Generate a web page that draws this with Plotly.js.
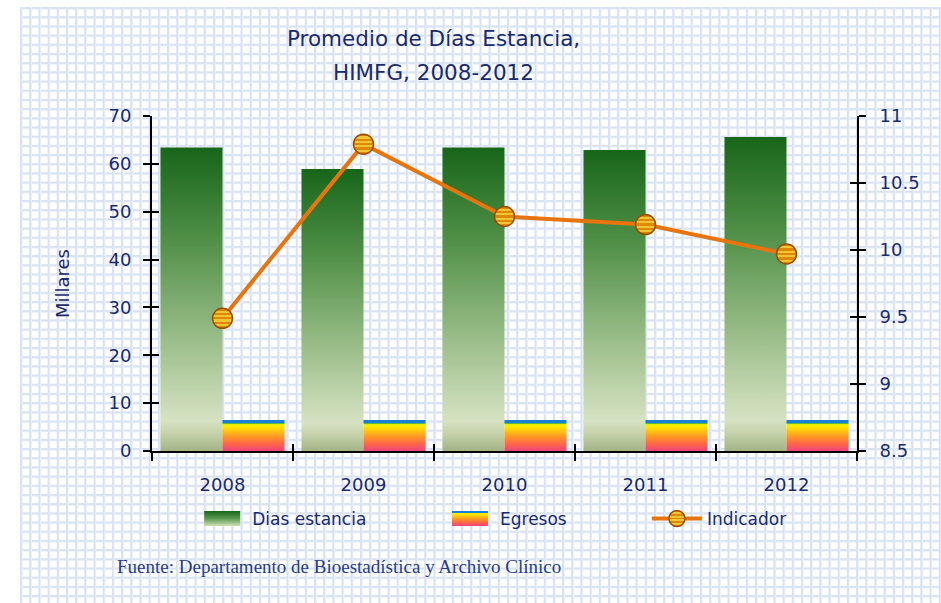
<!DOCTYPE html>
<html><head><meta charset="utf-8">
<script src="https://cdn.plot.ly/plotly-3.0.1.min.js"></script>
<style>
body{margin:0;background:#fff;}
#bg{position:absolute;left:20px;top:7px;width:921px;height:596px;background-color:#fff;
background-image:linear-gradient(90deg,#d8e2f1 0,#d8e2f1 2px,#edf2f9 2px,#edf2f9 3px,transparent 3px),linear-gradient(180deg,#d8e2f1 0,#d8e2f1 2px,#edf2f9 2px,#edf2f9 3px,transparent 3px);
background-size:9.2px 9.2px;}
#chart{position:absolute;left:0;top:0;width:941px;height:603px;}
</style></head><body>
<div id="bg"></div><div id="chart"></div>
<script>
// ---- data ----
const years=['2008','2009','2010','2011','2012'];
const diasEstancia=[63.4,58.9,63.4,62.9,65.6];   // miles
const egresos=[6.5,6.5,6.5,6.5,6.5];              // miles
const indicador=[9.49,10.79,10.25,10.19,9.97];
const leftTicks=[0,10,20,30,40,50,60,70];
const rightTicks=[8.5,9,9.5,10,10.5,11];
const titleLines=['Promedio de Días Estancia,','HIMFG, 2008-2012'];
const sourceText='Fuente: Departamento de Bioestadística y Archivo Clínico';

const navy='#1b2a6b';
const tickFont={family:'DejaVu Sans',size:18,color:navy};
const legFont={family:'DejaVu Sans',size:17,color:navy};
const empty=years.map(()=>null);

const data=[
 {type:'bar',name:'Dias estancia',x:years,y:diasEstancia,marker:{color:'#4f9246'},legend:'legend',hoverinfo:'skip'},
 {type:'bar',name:'Egresos',x:years,y:egresos,marker:{color:'#ffb020'},legend:'legend2',hoverinfo:'skip'},
 {type:'scatter',mode:'lines+markers',name:'Indicador',x:years,y:indicador,yaxis:'y2',legend:'legend3',
  line:{color:'#e8740e',width:4},marker:{size:20,color:'#eaa820',line:{color:'#9a4c00',width:1.5}},hoverinfo:'skip'},
 {type:'scatter',mode:'markers',x:years,y:empty,xaxis:'x2',yaxis:'y3',showlegend:false,hoverinfo:'skip'},
 {type:'scatter',mode:'markers',x:years,y:empty,xaxis:'x',yaxis:'y4',showlegend:false,hoverinfo:'skip'}
];

const axBase={showline:true,linecolor:'#000',linewidth:2,tickcolor:'#000',tickwidth:2,showgrid:false,zeroline:false,fixedrange:true,tickfont:tickFont};
const legBase={orientation:'h',xanchor:'left',yanchor:'middle',y:-0.203,itemwidth:50,font:legFont,bgcolor:'rgba(0,0,0,0)',borderwidth:0};

const layout={
 width:941,height:603,
 margin:{l:152,r:84,t:116,b:152,pad:0},
 paper_bgcolor:'rgba(0,0,0,0)',plot_bgcolor:'rgba(0,0,0,0)',
 barmode:'group',bargap:0.12,bargroupgap:0,
 showlegend:true,
 xaxis:Object.assign({},axBase,{type:'category',categoryorder:'array',categoryarray:years,range:[-0.5,4.5],tickson:'boundaries',ticks:'outside',ticklen:8,ticklabelstandoff:16}),
 xaxis2:Object.assign({},axBase,{type:'category',categoryorder:'array',categoryarray:years,range:[-0.5,4.5],tickson:'boundaries',ticks:'inside',ticklen:7,overlaying:'x',anchor:'y',showticklabels:false}),
 yaxis:Object.assign({},axBase,{range:[0,70],tickvals:leftTicks,ticks:'outside',ticklen:7,ticklabelstandoff:8,
   title:{text:'Millares',font:{family:'DejaVu Sans',size:18,color:navy},standoff:34}}),
 yaxis2:Object.assign({},axBase,{range:[8.5,11],tickvals:rightTicks,ticktext:rightTicks.map(String),ticks:'outside',ticklen:7,ticklabelstandoff:10,overlaying:'y',side:'right',anchor:'x'}),
 yaxis3:Object.assign({},axBase,{range:[0,70],tickvals:leftTicks,ticks:'inside',ticklen:7,overlaying:'y',side:'left',anchor:'x2',showticklabels:false}),
 yaxis4:Object.assign({},axBase,{range:[8.5,11],tickvals:rightTicks,ticks:'inside',ticklen:7,overlaying:'y',side:'right',anchor:'x',showticklabels:false}),
 legend:Object.assign({},legBase,{x:0.057}),
 legend2:Object.assign({},legBase,{x:0.4085}),
 legend3:Object.assign({},legBase,{x:0.702}),
 annotations:[
  {text:titleLines[0],xref:'paper',yref:'paper',x:0.3986,y:1.2328,xanchor:'center',yanchor:'middle',showarrow:false,font:{family:'DejaVu Sans',size:21.5,color:navy}},
  {text:titleLines[1],xref:'paper',yref:'paper',x:0.3986,y:1.1313,xanchor:'center',yanchor:'middle',showarrow:false,font:{family:'DejaVu Sans',size:21.5,color:navy}},
  {text:sourceText,xref:'paper',yref:'paper',x:-0.0525,y:-0.346,xanchor:'left',yanchor:'middle',showarrow:false,font:{family:'Liberation Serif',size:19,color:'#2a3c80'}}
 ]
};

const gd=document.getElementById('chart');
Plotly.newPlot(gd,data,layout,{staticPlot:true,displayModeBar:false}).then(decorate);

function decorate(){
 const NS='http://www.w3.org/2000/svg';
 const svg=gd.querySelector('svg.main-svg');
 let defs=svg.querySelector('defs');
 if(!defs){defs=document.createElementNS(NS,'defs');svg.insertBefore(defs,svg.firstChild);}
 function grad(id,stops){
  const g=document.createElementNS(NS,'linearGradient');
  g.setAttribute('id',id);g.setAttribute('x1','0');g.setAttribute('y1','0');g.setAttribute('x2','0');g.setAttribute('y2','1');
  stops.forEach(([o,c])=>{const s=document.createElementNS(NS,'stop');s.setAttribute('offset',o);s.setAttribute('stop-color',c);g.appendChild(s);});
  defs.appendChild(g);
 }
 grad('gGreen',[[0,'#17661a'],[0.3,'#4f8f46'],[0.6,'#93b982'],[0.9,'#d6e2c2'],[0.94,'#c6d3ac'],[1,'#a3b385']]);
 grad('gGreenLeg',[[0,'#17661a'],[0.5,'#5c9a52'],[1,'#cfe0b8']]);
 grad('gEgr',[[0,'#1a7fd6'],[0.1,'#1a7fd6'],[0.11,'#3cb050'],[0.15,'#eef000'],[0.22,'#ffe600'],[0.5,'#ffa020'],[0.75,'#ff6a44'],[1,'#ef427c']]);
 const st=[];const n=9;
 for(let i=0;i<n;i++){const c=i%2?'#f3c432':'#dc8a06';st.push([i/n,c]);st.push([(i+1)/n,c]);}
 grad('gStripes',st);
 const fillFor={'Dias estancia':'url(#gGreen)','Egresos':'url(#gEgr)'};
 gd.querySelectorAll('.barlayer .trace').forEach(t=>{
  const nm=t.__data__&&t.__data__[0]&&t.__data__[0].trace.name;
  if(fillFor[nm]) t.querySelectorAll('path').forEach(p=>{p.style.fill=fillFor[nm];});
 });
 gd.querySelectorAll('.scatterlayer .points path').forEach(p=>{p.style.fill='url(#gStripes)';});
 gd.querySelectorAll('.infolayer .traces').forEach(t=>{
  const nm=t.__data__&&t.__data__[0]&&t.__data__[0].trace.name;
  if(nm==='Dias estancia'||nm==='Egresos'){
   t.querySelectorAll('.legendpoints path').forEach(p=>{p.setAttribute('d','M-18,-7.5H18V7.5H-18Z');p.style.fill=nm==='Egresos'?'url(#gEgr)':'url(#gGreenLeg)';p.style.stroke='none';});
  } else if(nm==='Indicador'){
   t.querySelectorAll('.legendpoints .scatterpts').forEach(p=>{p.style.fill='url(#gStripes)';});
  }
 });
}
</script>
</body></html>
